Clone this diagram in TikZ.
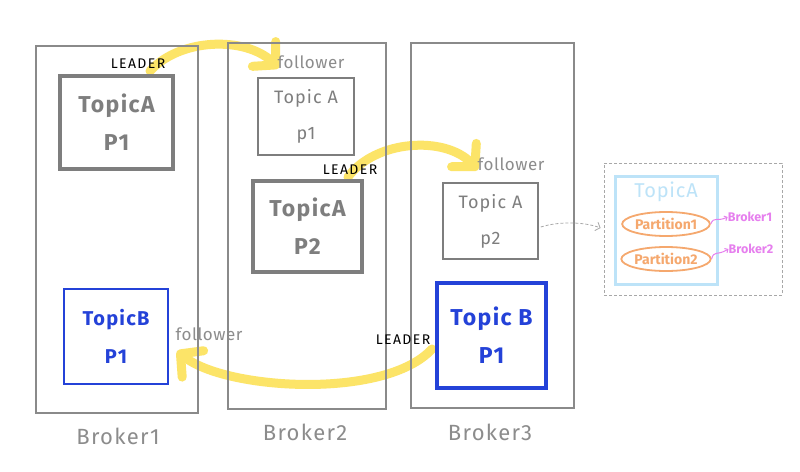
\documentclass[tikz,border=0pt]{standalone}
\usepackage{fontspec}
\setmainfont{Fira Sans}
\usetikzlibrary{arrows.meta,shapes.geometric,calc}
\pgfdeclarelayer{bg}
\pgfsetlayers{bg,main}
\definecolor{colgray}{HTML}{8A8A8A}
\definecolor{boxgray}{HTML}{7E7E7E}
\definecolor{lblgray}{HTML}{8C8C8C}
\definecolor{tblue}{HTML}{2442D8}
\definecolor{hl}{HTML}{FCE468}
\definecolor{lblue}{HTML}{BDE3F8}
\definecolor{porange}{HTML}{F5A86E}
\definecolor{bmag}{HTML}{E67FEE}
\definecolor{dashgray}{HTML}{A8A8A8}
\tikzset{
  column/.style={draw=colgray,line width=1.8pt,anchor=north west,inner sep=0pt},
  brokerlbl/.style={text=lblgray,font=\fontsize{22}{26}\selectfont\addfontfeatures{LetterSpace=6}},
  thickbox/.style={draw=boxgray,line width=4.5pt,text=boxgray,inner sep=0pt,align=center,
    font=\bfseries\fontsize{23}{38}\selectfont\addfontfeatures{LetterSpace=6}},
  thinbox/.style={draw=boxgray,line width=1.6pt,text=boxgray,inner sep=0pt,align=center,
    font=\fontsize{18}{36}\selectfont\addfontfeatures{LetterSpace=6}},
  leadlbl/.style={text=black,font=\fontsize{14}{16}\selectfont\addfontfeatures{LetterSpace=10},inner sep=0pt},
  follbl/.style={text=lblgray,font=\fontsize{17}{19}\selectfont\addfontfeatures{LetterSpace=3},inner sep=0pt},
  yarrow/.style={draw=hl,line width=9pt,line cap=round,
    -{Straight Barb[length=16pt,width=34pt,line cap=round,line join=round]}},
  partn/.style={ellipse,draw=porange,line width=1.8pt,minimum width=84pt,minimum height=24pt,
    inner sep=0pt,text=porange,font=\bfseries\fontsize{14}{15}\selectfont},
  maglbl/.style={text=bmag,font=\bfseries\fontsize{12.5}{14}\selectfont,inner sep=0pt},
  magarrow/.style={draw=bmag,line width=1pt,-{Straight Barb[length=2.5pt,width=5pt]}}
}
\begin{document}
\begin{tikzpicture}[x=1pt,y=-1pt]
\useasboundingbox (0,0) rectangle (800,471);
\begin{pgfonlayer}{bg}
\fill[white] (0,0) rectangle (800,471);
\end{pgfonlayer}

% broker columns
\node[column,minimum width=162pt,minimum height=367pt] (b1) at (35,45) {};
\node[column,minimum width=158pt,minimum height=366pt] (b2) at (227,42) {};
\node[column,minimum width=163pt,minimum height=365pt] (b3) at (410,42) {};
\node[brokerlbl] (b1l) at (118,436) {Broker1};
\node[brokerlbl] (b2l) at (305,432) {Broker2};
\node[brokerlbl] (b3l) at (490,432) {Broker3};

% partitions
\node[thickbox,minimum width=113pt,minimum height=93pt] (a1) at (116.5,122.5) {TopicA\\P1};
\node[thinbox,minimum width=96pt,minimum height=77pt] (a1f) at (306,116.5) {Topic A\\p1};
\node[thickbox,minimum width=109pt,minimum height=91pt] (a2) at (307.5,226.5) {TopicA\\P2};
\node[thinbox,minimum width=95pt,minimum height=76pt] (a2f) at (490.5,221) {Topic A\\p2};
\node[thickbox,draw=tblue,text=tblue,minimum width=109pt,minimum height=105pt] (bl) at (491.5,335.5) {Topic B\\P1};
\node[thinbox,draw=tblue,text=tblue,font=\bfseries\fontsize{20}{38}\selectfont\addfontfeatures{LetterSpace=6},line width=1.8pt,minimum width=104pt,minimum height=95pt] (bf) at (116,336.5) {TopicB\\P1};

% role labels
\node[leadlbl] (l1) at (138,64) {LEADER};
\node[follbl] (f1) at (311,62) {follower};
\node[leadlbl] (l2) at (350,170) {LEADER};
\node[follbl] (f2) at (511,164) {follower};
\node[leadlbl] (l3) at (403,340) {LEADER};
\node[follbl] (f3) at (209,334) {follower};

% yellow replication arrows
\coordinate (y1s) at (150,71);
\coordinate (y1e) at (279,68);
\coordinate (y2s) at (348,177);
\coordinate (y2e) at (478,170);
\coordinate (y3s) at (432,349);
\coordinate (y3e) at (177,351);
\begin{pgfonlayer}{bg}
\draw[yarrow] (y1s) .. controls (180,38) and (245,36) .. (y1e);
\draw[yarrow] (y2s) .. controls (375,140) and (445,135) .. (y2e);
\draw[yarrow] (y3s) .. controls (385,400) and (225,390) .. (y3e);
\end{pgfonlayer}

% right panel
\node[draw=dashgray,dash pattern=on 3pt off 2pt,line width=0.8pt,minimum width=178pt,minimum height=132pt] (pbox) at (693,229) {};
\node[draw=lblue,line width=3pt,minimum width=102pt,minimum height=108pt] (ta) at (666,230) {};
\node[text=lblue,font=\fontsize{20}{24}\selectfont\addfontfeatures{LetterSpace=4},inner sep=0pt] (tat) at (666,192) {TopicA};
\node[partn] (p1) at (666,224) {Partition1};
\node[partn] (p2) at (666,259) {Partition2};
\node[maglbl] (m1) at (750,217) {Broker1};
\node[maglbl] (m2) at (751,249) {Broker2};
\draw[magarrow] (p1.east) .. controls (714,216) and (717,222) .. (m1.west);
\draw[magarrow] (p2.east) .. controls (714,250) and (717,256) .. (m2.west);

\draw[dashgray,dash pattern=on 3pt off 2pt,line width=0.8pt,-{Straight Barb[length=4pt,width=9pt]}]
  ($(a2f.east)+(2,6)$) .. controls (560,221) and (585,222) .. ($(pbox.west)+(-3,-1)$);
\end{tikzpicture}
\end{document}
